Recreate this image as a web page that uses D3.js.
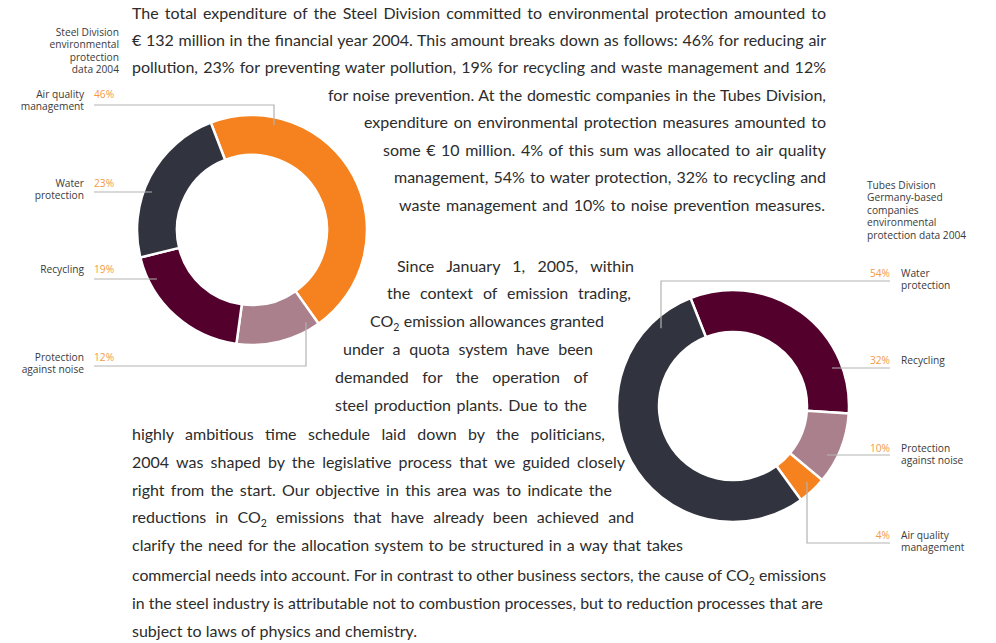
<!DOCTYPE html>
<html>
<head>
<meta charset="utf-8">
<script src="https://cdn.jsdelivr.net/npm/d3@7"></script>
<style>
  body { margin: 0; background: #fff; }
  svg { display: block; }
  .body-text { font-family: Lato, "Open Sans", sans-serif; font-size: 16px; fill: #2c2c2c; }
  .lbl { font-family: "Open Sans", Lato, sans-serif; font-size: 10.2px; fill: #3a3a3a; }
  .pct { font-family: "Open Sans", Lato, sans-serif; font-size: 10.2px; fill: #f39a45; }
</style>
</head>
<body>
<div id="chart"></div>
<script>
// Steel Division 2004, clockwise from the top-left
const steelCats = ['Air quality management', 'Protection against noise', 'Recycling', 'Water protection'];
const steelValues = [46, 12, 19, 23];
// Tubes Division Germany-based companies 2004
const tubesCats = ['Recycling', 'Protection against noise', 'Air quality management', 'Water protection'];
const tubesValues = [32, 10, 4, 54];

const colors = {
    'Air quality management': '#f5821f',
    'Water protection': '#31333e',
    'Recycling': '#54002c',
    'Protection against noise': '#a9808b'
};
const labelLines = {
    'Air quality management': ['Air quality', 'management'],
    'Water protection': ['Water', 'protection'],
    'Recycling': ['Recycling'],
    'Protection against noise': ['Protection', 'against noise']
};

const width = 996;
const height = 643;

const svg = d3.select('#chart')
    .append('svg')
    .attr('width', width)
    .attr('height', height);

// Layout of the two donuts and their callouts
const charts = [
    {
        cats: steelCats, values: steelValues,
        cx: 252, cy: 230, outer: 115, inner: 75, start: -21,
        side: 'left', textX: 84, pctX: 94, hitR: 107,
        title: ['Steel Division', 'environmental', 'protection', 'data 2004'],
        titleX: 119, titleY: 36,
        callouts: {
            'Air quality management': { y: 98, lineY: 105, elbow: 274 },
            'Water protection': { y: 187, lineY: 192 },
            'Recycling': { y: 273, lineY: 279 },
            'Protection against noise': { y: 361, lineY: 366, elbow: 306 }
        }
    },
    {
        cats: tubesCats, values: tubesValues,
        cx: 733, cy: 406, outer: 116, inner: 74, start: -21.5,
        side: 'right', textX: 901, pctX: 890, hitR: 106,
        title: ['Tubes Division', 'Germany-based', 'companies', 'environmental', 'protection data 2004'],
        titleX: 867, titleY: 189,
        callouts: {
            'Water protection': { y: 277, lineY: 281, elbow: 661 },
            'Recycling': { y: 364, lineY: 368 },
            'Protection against noise': { y: 452, lineY: 455 },
            'Air quality management': { y: 539, lineY: 543, elbow: 807 }
        }
    }
];

charts.forEach(c => {
    const data = c.cats.map((cat, i) => ({ cat, value: c.values[i] }));
    const a0 = c.start * Math.PI / 180;
    const pie = d3.pie().sort(null).value(d => d.value)
        .startAngle(a0).endAngle(a0 + 2 * Math.PI);
    const arc = d3.arc().innerRadius(c.inner).outerRadius(c.outer);

    const g = svg.append('g').attr('transform', `translate(${c.cx},${c.cy})`);
    g.selectAll('path')
        .data(pie(data))
        .enter()
        .append('path')
        .attr('d', arc)
        .attr('fill', d => colors[d.data.cat])
        .attr('stroke', '#fff')
        .attr('stroke-width', 2.5);

    // title block
    const t = svg.append('text')
        .attr('class', 'lbl')
        .attr('text-anchor', c.side === 'left' ? 'end' : 'start');
    c.title.forEach((s, i) => {
        t.append('tspan').attr('x', c.titleX).attr('y', c.titleY + i * 12.4).text(s);
    });

    // callouts
    data.forEach(d => {
        const o = c.callouts[d.cat];
        let path;
        if (o.elbow == null) {
            const dy = o.lineY - c.cy;
            const dx = Math.sqrt(c.hitR * c.hitR - dy * dy);
            const ex = c.side === 'left' ? c.cx - dx : c.cx + dx;
            path = `M${c.pctX},${o.lineY}H${ex}`;
        } else {
            const dx = o.elbow - c.cx;
            const dy = Math.sqrt(c.hitR * c.hitR - dx * dx);
            const ey = o.lineY < c.cy ? c.cy - dy : c.cy + dy;
            path = `M${c.pctX},${o.lineY}H${o.elbow}V${ey}`;
        }
        svg.append('path')
            .attr('d', path)
            .attr('fill', 'none')
            .attr('stroke', '#b3b3b3')
            .attr('stroke-width', 1.2);

        svg.append('text')
            .attr('class', 'pct')
            .attr('x', c.pctX)
            .attr('y', o.y)
            .attr('text-anchor', c.side === 'left' ? 'start' : 'end')
            .text(d.value + '%');

        const lt = svg.append('text')
            .attr('class', 'lbl')
            .attr('text-anchor', c.side === 'left' ? 'end' : 'start');
        labelLines[d.cat].forEach((s, i) => {
            lt.append('tspan').attr('x', c.textX).attr('y', o.y + i * 12).text(s);
        });
    });
});

// Body copy, each line fitted between its left and right edge
const bodyLines = [
    [132, 826, 19, 'The total expenditure of the Steel Division committed to environmental protection amounted to'],
    [132, 826, 46, '€ 132 million in the financial year 2004. This amount breaks down as follows: 46% for reducing air'],
    [132, 826, 73, 'pollution, 23% for preventing water pollution, 19% for recycling and waste management and 12%'],
    [328, 826, 101, 'for noise prevention. At the domestic companies in the Tubes Division,'],
    [364, 826, 128, 'expenditure on environmental protection measures amounted to'],
    [383, 826, 156, 'some € 10 million. 4% of this sum was allocated to air quality'],
    [394, 826, 183, 'management, 54% to water protection, 32% to recycling and'],
    [399, 825, 211, 'waste management and 10% to noise prevention measures.'],
    [397, 634, 272, 'Since January 1, 2005, within'],
    [387, 631, 299, 'the context of emission trading,'],
    [370, 604, 327, 'CO_2 emission allowances granted'],
    [343, 593, 355, 'under a quota system have been'],
    [335, 588, 383, 'demanded for the operation of'],
    [335, 587, 411, 'steel production plants. Due to the'],
    [132, 605, 440, 'highly ambitious time schedule laid down by the politicians,'],
    [132, 625, 468, '2004 was shaped by the legislative process that we guided closely'],
    [132, 612, 496, 'right from the start. Our objective in this area was to indicate the'],
    [132, 634, 523, 'reductions in CO_2 emissions that have already been achieved and'],
    [132, 683, 551, 'clarify the need for the allocation system to be structured in a way that takes'],
    [132, 826, 581, 'commercial needs into account. For in contrast to other business sectors, the cause of CO_2 emissions'],
    [132, 823, 609, 'in the steel industry is attributable not to combustion processes, but to reduction processes that are'],
    [132, 417, 637, 'subject to laws of physics and chemistry.']
];

bodyLines.forEach(([x0, x1, y, s]) => {
    const txt = svg.append('text')
        .attr('class', 'body-text')
        .attr('x', x0)
        .attr('y', y);
    const parts = s.split('CO_2');
    parts.forEach((p, i) => {
        if (i > 0) {
            txt.append('tspan').text('CO');
            txt.append('tspan').attr('dy', 3.5).attr('font-size', '10.5px').text('2');
            txt.append('tspan').attr('dy', -3.5).text(p);
        } else if (p) {
            txt.append('tspan').text(p);
        }
    });
    const target = x1 - x0;
    const w = txt.node().getComputedTextLength();
    const spaces = (s.match(/ /g) || []).length;
    if (w < target && spaces > 0) {
        txt.attr('word-spacing', (target - w) / spaces);
    } else if (w > target) {
        txt.attr('textLength', target).attr('lengthAdjust', 'spacingAndGlyphs');
    }
});
</script>
</body>
</html>
